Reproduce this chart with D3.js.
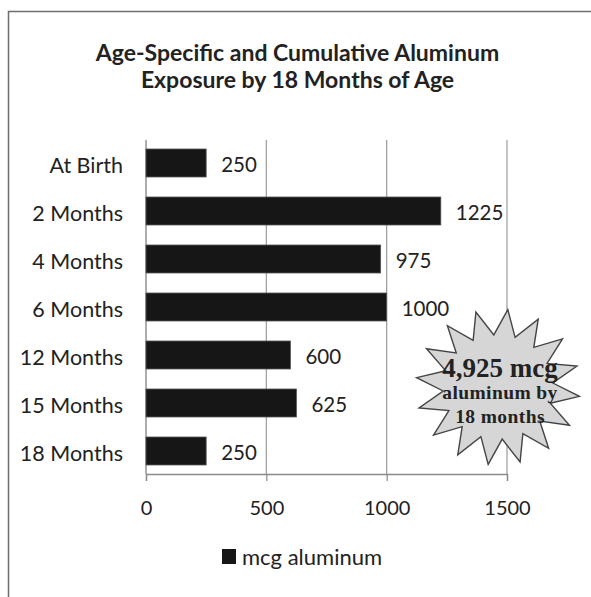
<!DOCTYPE html>
<html>
<head>
<meta charset="utf-8">
<script src="https://cdn.jsdelivr.net/npm/d3@7"></script>
<style>
  body { margin: 0; background: #fff; }
  svg text { font-family: Lato, "Open Sans", sans-serif; fill: #222; }
</style>
</head>
<body>
<div id="chart"></div>
<script>
// chart data
var categories = ['At Birth', '2 Months', '4 Months', '6 Months', '12 Months', '15 Months', '18 Months'];
var values = [250, 1225, 975, 1000, 600, 625, 250];
var ticks = [0, 500, 1000, 1500];
var titleLines = ['Age-Specific and Cumulative Aluminum', 'Exposure by 18 Months of Age'];
var seriesName = 'mcg aluminum';
var burstLines = ['4,925 mcg', 'aluminum by', '18 months'];

var width = 591, height = 597;
var top_ = 140, bottom_ = 474;

var svg = d3.select('#chart')
  .append('svg')
  .attr('width', width)
  .attr('height', height);

// outer frame (right and bottom edges run off the picture)
svg.append('rect')
  .attr('x', 8.5).attr('y', 11.5)
  .attr('width', 620).attr('height', 620)
  .attr('fill', '#fff')
  .attr('stroke', '#6e6e6e')
  .attr('stroke-width', 1.5);

// title
svg.append('g')
  .selectAll('text')
  .data(titleLines)
  .enter()
  .append('text')
  .attr('x', 297.5)
  .attr('y', (d, i) => 61 + i * 27)
  .attr('text-anchor', 'middle')
  .style('font-weight', 'bold')
  .style('font-size', '23px')
  .text(d => d);

var x = d3.scaleLinear().domain([0, 1500]).range([146, 507]);
var y = d3.scaleBand()
  .domain(categories)
  .range([top_, bottom_])
  .paddingInner(0.4167)
  .paddingOuter(0.1875);

// gridlines
svg.append('g')
  .selectAll('line')
  .data(ticks.slice(1))
  .enter()
  .append('line')
  .attr('x1', d => x(d)).attr('x2', d => x(d))
  .attr('y1', top_).attr('y2', bottom_)
  .attr('stroke', '#9a9a9a')
  .attr('stroke-width', 1.2);

// bottom axis
var xAxis = svg.append('g')
  .attr('transform', 'translate(0,' + bottom_ + ')')
  .call(d3.axisBottom(x).tickValues(ticks).tickFormat(d3.format('d')).tickSize(7).tickPadding(20));
xAxis.select('.domain').attr('stroke', '#8a8a8a').attr('stroke-width', 1.4);
xAxis.selectAll('.tick line').attr('stroke', '#8a8a8a').attr('stroke-width', 1.2);
xAxis.selectAll('.tick text')
  .style('font-family', 'Lato, sans-serif')
  .style('font-size', '20px')
  .attr('fill', '#222');

// left axis
var yAxis = svg.append('g')
  .attr('transform', 'translate(146,0)')
  .call(d3.axisLeft(y).tickSize(0).tickPadding(23));
yAxis.select('.domain').attr('stroke', '#8a8a8a').attr('stroke-width', 1.4)
  .attr('d', 'M0,' + top_ + 'V' + bottom_);
yAxis.selectAll('.tick text')
  .style('font-family', 'Lato, sans-serif')
  .style('font-size', '21.5px')
  .attr('dy', '0.45em')
  .attr('fill', '#222');

// bars
svg.append('g')
  .selectAll('rect')
  .data(values)
  .enter()
  .append('rect')
  .attr('x', x(0))
  .attr('y', (d, i) => y(categories[i]))
  .attr('width', d => x(d) - x(0))
  .attr('height', y.bandwidth())
  .attr('fill', '#161616')
  .attr('stroke', '#555')
  .attr('stroke-width', 0.8);

// value labels
svg.append('g')
  .selectAll('text')
  .data(values)
  .enter()
  .append('text')
  .attr('x', d => x(d) + 15)
  .attr('y', (d, i) => y(categories[i]) + y.bandwidth() / 2)
  .attr('dy', '0.45em')
  .style('font-size', '20.5px')
  .text(d => d);

// starburst callout
var cx = 498, cy = 387, rOut = 82, rIn = 55, nPts = 16;
var pts = d3.range(nPts * 2).map(function(i) {
  var a = -Math.PI / 2 + 0.12 + i * Math.PI / nPts;
  var r = i % 2 === 0 ? rOut : rIn;
  return [cx + r * Math.cos(a), cy + r * 0.95 * Math.sin(a)];
});
svg.append('path')
  .attr('d', d3.line()(pts) + 'Z')
  .attr('fill', '#d6d6d6')
  .attr('stroke', '#444')
  .attr('stroke-width', 1.4)
  .attr('stroke-linejoin', 'miter');

svg.append('g')
  .selectAll('text')
  .data(burstLines)
  .enter()
  .append('text')
  .attr('x', 500)
  .attr('y', (d, i) => [377, 399, 423][i])
  .attr('text-anchor', 'middle')
  .style('font-family', '"Liberation Serif", "Times New Roman", serif')
  .style('font-weight', 'bold')
  .style('font-size', (d, i) => i === 0 ? '27px' : '19.5px')
  .style('letter-spacing', (d, i) => i === 0 ? '0px' : '0.4px')
  .attr('fill', '#222')
  .text(d => d);

// legend
var legend = svg.append('g').attr('transform', 'translate(222,549)');
legend.append('rect')
  .attr('width', 14).attr('height', 15)
  .attr('fill', '#161616');
legend.append('text')
  .attr('x', 20).attr('y', 16)
  .style('font-size', '22px')
  .text(seriesName);
</script>
</body>
</html>
